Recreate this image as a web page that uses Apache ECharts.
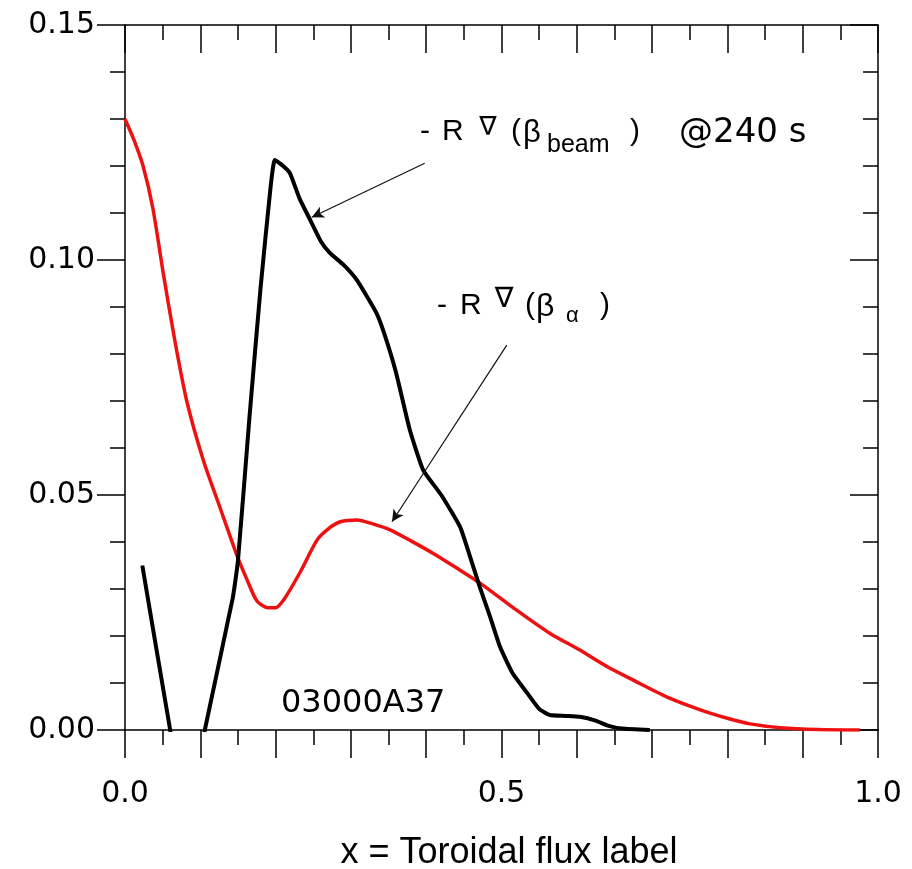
<!DOCTYPE html>
<html>
<head>
<meta charset="utf-8">
<script src="https://cdn.jsdelivr.net/npm/echarts@6.0.0/dist/echarts.min.js"></script>
<style>
html,body{margin:0;padding:0;background:#fff;}
#chart{width:912px;height:869px;}
</style>
</head>
<body>
<div id="chart"></div>
<script>
// -R grad(beta_alpha) (red)
const alphaX = [0, 0.012, 0.024, 0.037, 0.051, 0.066, 0.082, 0.104, 0.126, 0.149, 0.162, 0.175, 0.19, 0.2, 0.212, 0.232, 0.255, 0.27, 0.286, 0.308, 0.33, 0.352, 0.378, 0.41, 0.44, 0.471, 0.52, 0.564, 0.604, 0.64, 0.675, 0.72, 0.764, 0.8, 0.83, 0.87, 0.92, 0.976];
const alphaY = [0.130, 0.1255, 0.120, 0.111, 0.097, 0.083, 0.070, 0.0574, 0.0474, 0.037, 0.032, 0.0275, 0.026, 0.026, 0.028, 0.0334, 0.0404, 0.0428, 0.0443, 0.0447, 0.0438, 0.0426, 0.0404, 0.0375, 0.0345, 0.0313, 0.0255, 0.0206, 0.017, 0.0135, 0.0106, 0.007, 0.0043, 0.0025, 0.0013, 0.0005, 0.0001, 0];

// -R grad(beta_beam) (black)
const beamX = [0.023, 0.06, 0.083, 0.106, 0.143, 0.15, 0.165, 0.18, 0.193, 0.199, 0.21, 0.219, 0.232, 0.246, 0.26, 0.272, 0.29, 0.308, 0.334, 0.345, 0.36, 0.378, 0.396, 0.42, 0.445, 0.458, 0.471, 0.485, 0.498, 0.515, 0.534, 0.55, 0.564, 0.585, 0.604, 0.625, 0.64, 0.66, 0.697];
const beamY = [0.035, 0, -0.02, 0, 0.028, 0.036, 0.066, 0.094, 0.115, 0.1213, 0.120, 0.1185, 0.113, 0.1085, 0.104, 0.1015, 0.099, 0.0957, 0.0887, 0.084, 0.076, 0.064, 0.0553, 0.050, 0.0432, 0.037, 0.0305, 0.024, 0.0177, 0.012, 0.0079, 0.0045, 0.0032, 0.003, 0.0028, 0.002, 0.001, 0.0003, 0];

// arrows: [fromX, fromY, toX, toY] in data units
const arrowBeam = [0.398, 0.1206, 0.248, 0.1091];
const arrowAlpha = [0.507, 0.0819, 0.3546, 0.0443];

const xTickLabels = ['0.0', '0.5', '1.0'];
const yTickLabels = ['0.00', '0.05', '0.10', '0.15'];
const xTitle = 'x = Toroidal flux label';

const chart = echarts.init(document.getElementById('chart'), null, {renderer: 'canvas'});

const axisCol = '#000';
function xAx(pos) {
  const top = pos === 'top';
  return {
    type: 'value', min: 0, max: 1, interval: 0.1, position: pos,
    axisLine: {show: true, onZero: false, lineStyle: {color: axisCol, width: 1.5}},
    axisTick: {show: true, inside: top, length: 28, lineStyle: {color: axisCol, width: 1.5}},
    minorTick: {show: true, splitNumber: 2, length: 15, lineStyle: {color: axisCol, width: 1.5}},
    splitLine: {show: false}, minorSplitLine: {show: false},
    axisLabel: {
      show: !top, margin: 49, color: '#000', fontFamily: 'DejaVu Sans', fontSize: 30,
      showMinLabel: true, showMaxLabel: true,
      formatter: function (v) {
        const s = v.toFixed(1);
        return xTickLabels.indexOf(s) >= 0 ? s : '';
      }
    }
  };
}
function yAx(pos) {
  const right = pos === 'right';
  return {
    type: 'value', min: 0, max: 0.15, interval: 0.05, position: pos,
    axisLine: {show: true, onZero: false, lineStyle: {color: axisCol, width: 1.5}},
    axisTick: {show: true, inside: right, length: 28, lineStyle: {color: axisCol, width: 1.5}},
    minorTick: {show: true, splitNumber: 5, length: 15, lineStyle: {color: axisCol, width: 1.5}},
    splitLine: {show: false}, minorSplitLine: {show: false},
    axisLabel: {
      show: !right, margin: 30, color: '#000', fontFamily: 'DejaVu Sans', fontSize: 30,
      showMinLabel: true, showMaxLabel: true,
      formatter: function (v) {
        const s = v.toFixed(2);
        return yTickLabels.indexOf(s) >= 0 ? s : '';
      }
    }
  };
}

function txt(text, x, y, font, align) {
  return {
    type: 'text', x: x, y: y, silent: true, z: 100,
    style: {
      text: text, font: font, fill: '#000',
      align: align || 'left', verticalAlign: 'middle',
      textAlign: align || 'left', textVerticalAlign: 'middle'
    }
  };
}
const LS = '"Liberation Sans", Arial, sans-serif';
const DV = '"DejaVu Sans", sans-serif';

const option = {
  animation: false,
  backgroundColor: '#fff',
  grid: {left: 125, top: 25, right: 34, bottom: 139, containLabel: false},
  xAxis: [xAx('bottom'), xAx('top')],
  yAxis: [yAx('left'), yAx('right')],
  series: [
    {
      name: 'alpha', type: 'line', xAxisIndex: 0, yAxisIndex: 0,
      data: alphaX.map((x, i) => [x, alphaY[i]]),
      showSymbol: false, symbol: 'none', smooth: 0.25, clip: true,
      lineStyle: {color: '#ee1111', width: 3.5}, z: 2,
      markLine: {
        silent: true, symbol: ['none', 'arrow'], symbolSize: [9, 12],
        label: {show: false},
        lineStyle: {color: '#111', width: 1.2, type: 'solid'},
        data: [
          [{coord: [arrowBeam[0], arrowBeam[1]]}, {coord: [arrowBeam[2], arrowBeam[3]]}],
          [{coord: [arrowAlpha[0], arrowAlpha[1]]}, {coord: [arrowAlpha[2], arrowAlpha[3]]}]
        ]
      }
    },
    {
      name: 'beam', type: 'line', xAxisIndex: 0, yAxisIndex: 0,
      data: beamX.map((x, i) => [x, beamY[i]]),
      showSymbol: false, symbol: 'none', smooth: 0.15, clip: true,
      lineStyle: {color: '#000', width: 4}, z: 3
    }
  ],
  graphic: [
    // - R ∇ (β_beam )
    txt('-', 420, 132, '30px ' + LS),
    txt('R', 442, 132, '30px ' + LS),
    txt('\u2207', 488, 128, '26px ' + DV, 'center'),
    txt('(', 511, 132, '30px ' + LS),
    txt('\u03B2', 523, 133, '31px ' + LS),
    txt('beam', 547, 145, '25px ' + LS),
    txt(')', 630, 132, '30px ' + LS),
    txt('@240 s', 679, 133, '34px ' + DV),
    // - R ∇ (β_α )
    txt('-', 437, 306, '30px ' + LS),
    txt('R', 460, 306, '30px ' + LS),
    txt('\u2207', 504, 300, '28px ' + DV, 'center'),
    txt('(', 525, 306, '30px ' + LS),
    txt('\u03B2', 536, 307, '32px ' + LS),
    txt('\u03B1', 566, 316, '22px ' + LS),
    txt(')', 600, 306, '30px ' + LS),
    // id label
    txt('03000A37', 281, 704, '32px ' + DV),
    // axis title
    txt(xTitle, 509, 853, '36px ' + LS, 'center')
  ]
};
chart.setOption(option);
</script>
</body>
</html>
